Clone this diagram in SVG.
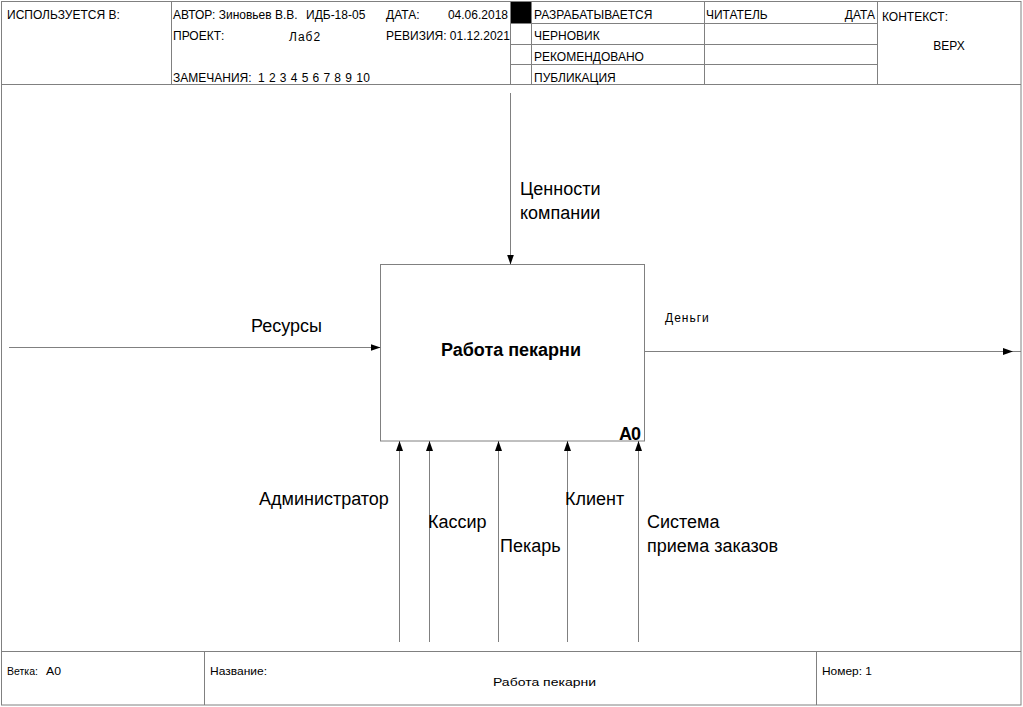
<svg xmlns="http://www.w3.org/2000/svg" width="1023" height="707" viewBox="0 0 1023 707">
  <style>
    .frame { fill: none; stroke: #808080; stroke-width: 1; }
    .hdr { font-family: "Liberation Sans", Arial, sans-serif; font-size: 12px; fill: #000; }
    .ftr { font-family: "Liberation Sans", Arial, sans-serif; font-size: 11px; fill: #000; }
    .lbl { font-family: "Liberation Sans", Arial, sans-serif; font-size: 18px; fill: #000; }
    .ttl { font-family: "Liberation Sans", Arial, sans-serif; font-size: 18px; font-weight: bold; fill: #000; }
    .arc { fill: none; stroke: #808080; stroke-width: 1; }
  </style>
  <defs>
    <marker id="arrow" viewBox="0 0 10 7" refX="10" refY="3.5" markerWidth="10" markerHeight="7" markerUnits="userSpaceOnUse" orient="auto">
      <path d="M0,0 L10,3.5 L0,7 Z" fill="#000"/>
    </marker>
  </defs>
  <rect width="1023" height="707" fill="#fff"/>

  <!-- sheet frame -->
  <g id="frame">
    <rect class="frame" x="1.5" y="1.5" width="1019.5" height="703.5"/>
    <line class="frame" x1="1.5" y1="84.5" x2="1021" y2="84.5"/>
    <line class="frame" x1="171.5" y1="1.5" x2="171.5" y2="84.5"/>
    <line class="frame" x1="510.5" y1="1.5" x2="510.5" y2="84.5"/>
    <line class="frame" x1="531.5" y1="1.5" x2="531.5" y2="84.5"/>
    <line class="frame" x1="704.5" y1="1.5" x2="704.5" y2="84.5"/>
    <line class="frame" x1="877.5" y1="1.5" x2="877.5" y2="84.5"/>
    <line class="frame" x1="510.5" y1="23.5" x2="877.5" y2="23.5"/>
    <line class="frame" x1="510.5" y1="44.5" x2="877.5" y2="44.5"/>
    <line class="frame" x1="510.5" y1="64.5" x2="877.5" y2="64.5"/>
    <rect x="511" y="2" width="20" height="21" fill="#000"/>
    <line class="frame" x1="1.5" y1="651.5" x2="1021" y2="651.5"/>
    <line class="frame" x1="204.5" y1="651.5" x2="204.5" y2="705"/>
    <line class="frame" x1="816.5" y1="651.5" x2="816.5" y2="705"/>
  </g>

  <!-- header texts -->
  <g id="header">
    <text class="hdr" x="7" y="19">ИСПОЛЬЗУЕТСЯ В:</text>
    <text class="hdr" x="173" y="19">АВТОР: Зиновьев В.В.</text>
    <text class="hdr" x="306" y="19">ИДБ-18-05</text>
    <text class="hdr" x="386" y="19">ДАТА:</text>
    <text class="hdr" x="508" y="19" text-anchor="end">04.06.2018</text>
    <text class="hdr" x="173" y="40">ПРОЕКТ:</text>
    <text class="hdr" x="289" y="41" font-size="13" letter-spacing="1">Лаб2</text>
    <text class="hdr" x="386" y="40">РЕВИЗИЯ: 01.12.2021</text>
    <text class="hdr" x="173" y="82">ЗАМЕЧАНИЯ:</text>
    <text class="hdr" x="258" y="82" textLength="112" lengthAdjust="spacing">1 2 3 4 5 6 7 8 9 10</text>
    <text class="hdr" x="534" y="19">РАЗРАБАТЫВАЕТСЯ</text>
    <text class="hdr" x="534" y="40">ЧЕРНОВИК</text>
    <text class="hdr" x="534" y="61">РЕКОМЕНДОВАНО</text>
    <text class="hdr" x="534" y="82">ПУБЛИКАЦИЯ</text>
    <text class="hdr" x="706" y="19">ЧИТАТЕЛЬ</text>
    <text class="hdr" x="875" y="19" text-anchor="end">ДАТА</text>
    <text class="hdr" x="882" y="21">КОНТЕКСТ:</text>
    <text class="hdr" x="949" y="50" text-anchor="middle">ВЕРХ</text>
  </g>

  <!-- function block A0 -->
  <g id="A0">
    <rect x="380.5" y="264.5" width="264" height="176.5" fill="#fff" stroke="#808080" stroke-width="1"/>
    <text class="ttl" x="511" y="356" text-anchor="middle">Работа пекарни</text>
    <text class="ttl" x="640" y="440" text-anchor="end" font-size="16" letter-spacing="-1">A0</text>
  </g>

  <!-- arrows -->
  <g id="connectors">
    <line class="arc" x1="510.5" y1="93" x2="510.5" y2="264.5" marker-end="url(#arrow)"/>
    <line class="arc" x1="9" y1="347.5" x2="380.5" y2="347.5" marker-end="url(#arrow)"/>
    <line class="arc" x1="644.5" y1="351.5" x2="1013" y2="351.5" marker-end="url(#arrow)"/>
    <line class="arc" x1="1013" y1="351.5" x2="1021" y2="351.5"/>
    <line class="arc" x1="399.5" y1="642" x2="399.5" y2="441" marker-end="url(#arrow)"/>
    <line class="arc" x1="429.5" y1="642" x2="429.5" y2="441" marker-end="url(#arrow)"/>
    <line class="arc" x1="498.5" y1="642" x2="498.5" y2="441" marker-end="url(#arrow)"/>
    <line class="arc" x1="567.5" y1="642" x2="567.5" y2="441" marker-end="url(#arrow)"/>
    <line class="arc" x1="638.5" y1="642" x2="638.5" y2="441" marker-end="url(#arrow)"/>
  </g>

  <!-- arrow labels -->
  <g id="labels">
    <text class="lbl" x="520" y="195">Ценности</text>
    <text class="lbl" x="520" y="219">компании</text>
    <text class="lbl" x="251" y="332">Ресурсы</text>
    <text class="hdr" x="665" y="322" font-size="12" letter-spacing="1">Деньги</text>
    <text class="lbl" x="259" y="505">Администратор</text>
    <text class="lbl" x="428" y="528">Кассир</text>
    <text class="lbl" x="500" y="552">Пекарь</text>
    <text class="lbl" x="565" y="505">Клиент</text>
    <text class="lbl" x="647" y="528">Система</text>
    <text class="lbl" x="647" y="552">приема заказов</text>
  </g>

  <!-- footer texts -->
  <g id="footer">
    <text class="ftr" x="7" y="675" textLength="31" lengthAdjust="spacingAndGlyphs">Ветка:</text>
    <text class="ftr" x="46" y="675" textLength="15" lengthAdjust="spacingAndGlyphs">А0</text>
    <text class="ftr" x="210" y="675" textLength="57" lengthAdjust="spacingAndGlyphs">Название:</text>
    <text class="ftr" x="493" y="686" textLength="103" lengthAdjust="spacingAndGlyphs">Работа пекарни</text>
    <text class="ftr" x="822" y="675" textLength="50" lengthAdjust="spacingAndGlyphs">Номер: 1</text>
  </g>
</svg>
